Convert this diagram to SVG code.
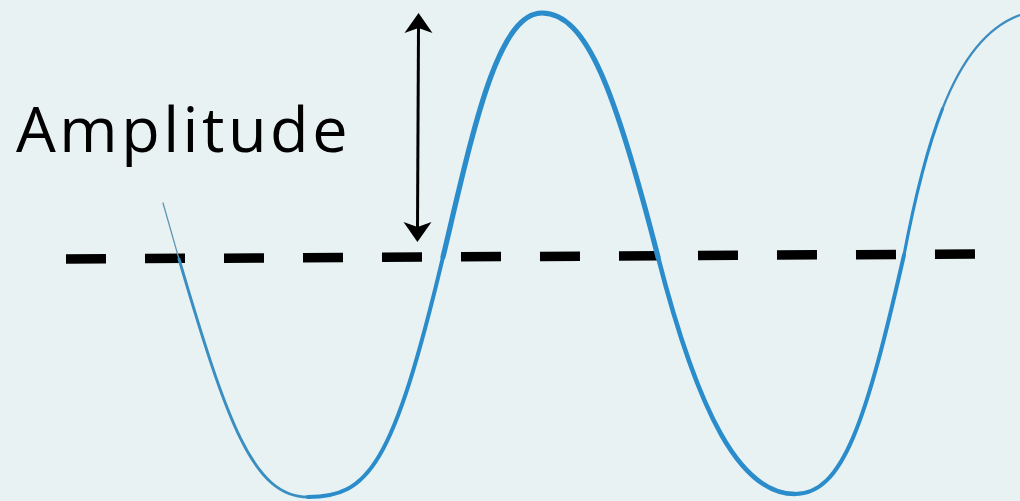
<svg xmlns="http://www.w3.org/2000/svg" width="1020" height="501" viewBox="0 0 1020 501">
  <defs>
    <style>
      .wave { fill: none; stroke: #2b8ccc; stroke-linecap: round; stroke-linejoin: round; }
      .label { font-family: "Open Sans", "Noto Sans", "DejaVu Sans", sans-serif; font-size: 63px; fill: #000; letter-spacing: 3.5px; }
      .axis { fill: none; stroke: #000; stroke-width: 9.5; stroke-dasharray: 40 39; }
      .arrow { fill: none; stroke: #000; stroke-width: 3; }
    </style>
    <marker id="head" viewBox="-35 -15 36 30" refX="-14" refY="0" markerWidth="36" markerHeight="30" markerUnits="userSpaceOnUse" orient="auto-start-reverse">
      <path d="M0,0 L-20,-14 L-15,0 L-20,14 Z" fill="#000"/>
    </marker>
  </defs>
  <rect x="0" y="0" width="1020" height="501" fill="#e8f2f3"/>

  <g id="baseline">
    <line class="axis" x1="66" y1="259" x2="975" y2="254"/>
  </g>

  <g id="wave">
    <path class="wave" style="stroke:#5f97b3;stroke-width:1.3" d="M163,203 L179,259"/>
    <path class="wave" style="stroke:#3a8fc0;stroke-width:2.9" d="M179,259 C227,422 253,497 308,497"/>
    <path class="wave" style="stroke-width:4" d="M308,497 C368,497 393,467 443,257"/>
    <path class="wave" style="stroke-width:5.2" d="M443,257 C473,131 497,13 542,13 C587,13 616,93 658,257"/>
    <path class="wave" style="stroke-width:4.6" d="M658,257 C698,413 740,494 795,494"/>
    <path class="wave" style="stroke-width:4" d="M795,494 C843,494 866,422 904,255"/>
    <path class="wave" style="stroke-width:3.2" d="M904,255 C913,207.5 924.5,155 942.5,108.75"/>
    <path class="wave" style="stroke:#3f8dbf;stroke-width:2.3" d="M942.5,108.75 C960.5,62.5 985,27.5 1020,15"/>
  </g>

  <g id="label-amplitude">
    <text class="label" x="16" y="152">Amplitude</text>
  </g>

  <g id="connectors">
    <line class="arrow" x1="418.5" y1="27" x2="417.5" y2="228" marker-start="url(#head)" marker-end="url(#head)"/>
  </g>
</svg>
